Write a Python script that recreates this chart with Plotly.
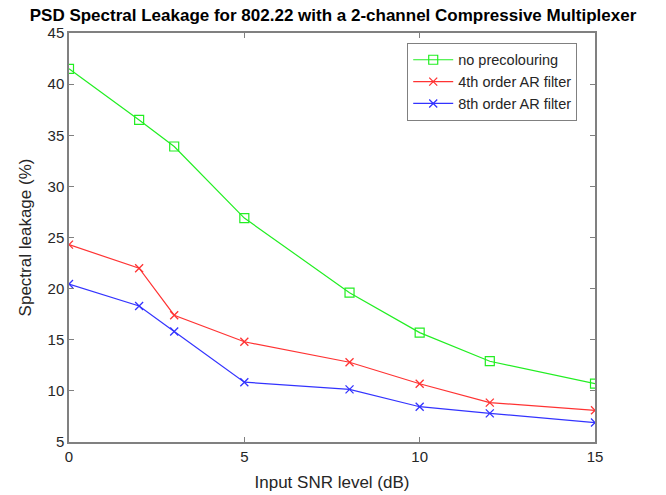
import plotly.graph_objects as go

snr = [0, 2, 3, 5, 8, 10, 12, 15]
no_precolouring = [41.5, 36.5, 33.9, 26.9, 19.6, 15.7, 12.9, 10.7]
ar4 = [24.3, 22.0, 17.4, 14.8, 12.8, 10.7, 8.85, 8.1]
ar8 = [20.45, 18.3, 15.8, 10.85, 10.15, 8.45, 7.8, 6.9]

names = ["no precolouring", "4th order AR filter", "8th order AR filter"]
x_ticks = [0, 5, 10, 15]
y_ticks = [5, 10, 15, 20, 25, 30, 35, 40, 45]

fig = go.Figure()
fig.add_trace(go.Scatter(x=snr, y=no_precolouring, name=names[0], mode="lines+markers",
                         line=dict(color="#22ee22", width=1.2),
                         marker=dict(symbol="square-open", size=9, color="#22ee22", line=dict(width=1.2))))
fig.add_trace(go.Scatter(x=snr, y=ar4, name=names[1], mode="lines+markers",
                         line=dict(color="#ff3333", width=1.2),
                         marker=dict(symbol="x-thin-open", size=8, color="#ff3333", line=dict(width=1.3, color="#ff3333"))))
fig.add_trace(go.Scatter(x=snr, y=ar8, name=names[2], mode="lines+markers",
                         line=dict(color="#3333ff", width=1.2),
                         marker=dict(symbol="x-thin-open", size=8, color="#3333ff", line=dict(width=1.3, color="#3333ff"))))

axis_common = dict(showline=True, linecolor="#808080", linewidth=1.5, mirror="ticks",
                   ticks="inside", ticklen=5, tickcolor="#808080", showgrid=False, zeroline=False,
                   tickfont=dict(size=15, color="#262626"), automargin=False)

fig.update_layout(
    width=666, height=495,
    margin=dict(l=69, r=71, t=33, b=53),
    paper_bgcolor="white", plot_bgcolor="white",
    font=dict(family="Liberation Sans, Arial, sans-serif", color="#262626"),
    title=dict(text="<b>PSD Spectral Leakage for 802.22 with a 2-channel Compressive Multiplexer</b>",
               x=0.5, xanchor="center", y=0.969, yanchor="middle", font=dict(size=17, color="black")),
    xaxis=dict(range=[0, 15], tickvals=x_ticks, title=dict(text="Input SNR level (dB)", font=dict(size=17), standoff=12),
               **axis_common),
    yaxis=dict(range=[5, 45], tickvals=y_ticks, title=dict(text="Spectral leakage (%)", font=dict(size=17), standoff=12),
               **axis_common),
    legend=dict(x=0.643, y=0.976, xanchor="left", yanchor="top", bordercolor="#808080", borderwidth=1,
                bgcolor="white", font=dict(size=14.5, color="#262626"), itemwidth=40, tracegroupgap=0),
    showlegend=True,
)

fig.write_html("out.html")
